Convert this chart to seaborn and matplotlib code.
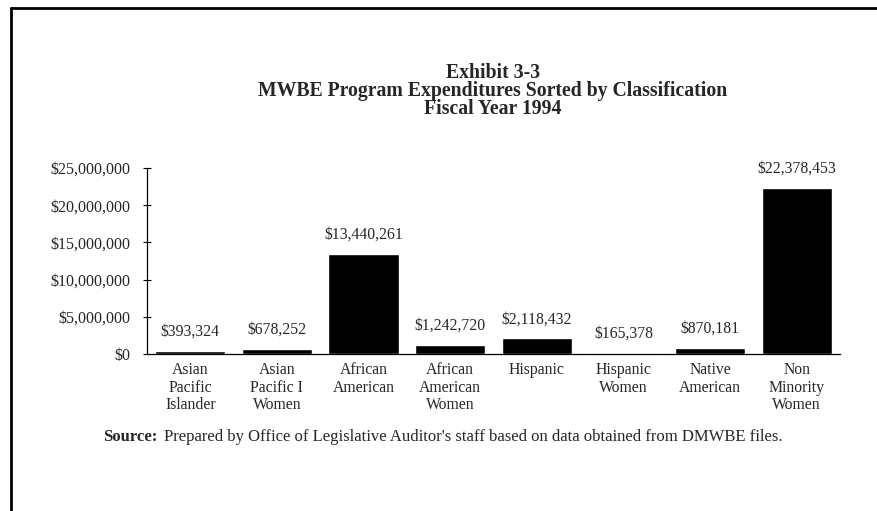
import matplotlib
matplotlib.use("Agg")
import matplotlib.pyplot as plt
import pandas as pd
import seaborn as sns

# chart data
categories = ["Asian\nPacific\nIslander", "Asian\nPacific I\nWomen", "African\nAmerican",
              "African\nAmerican\nWomen", "Hispanic", "Hispanic\nWomen", "Native\nAmerican",
              "Non\nMinority\nWomen"]
expenditures = [393324, 678252, 13440261, 1242720, 2118432, 165378, 870181, 22378453]
y_ticks = [0, 5000000, 10000000, 15000000, 20000000, 25000000]
title_lines = ["Exhibit 3-3", "MWBE Program Expenditures Sorted by Classification", "Fiscal Year 1994"]

df = pd.DataFrame({"Classification": categories, "Expenditure": expenditures})

sns.set_theme(style="white")
plt.rcParams["font.family"] = ["Liberation Serif", "DejaVu Serif"]

fig = plt.figure(figsize=(8.77, 5.11), dpi=100)
ax = fig.add_axes([0.1676, 0.3072, 0.7902, 0.364])

sns.barplot(data=df, x="Classification", y="Expenditure", color="black",
            width=0.81, saturation=1, ax=ax)

ax.set_xlim(-0.5, len(categories) - 0.5)
ax.set_ylim(0, 25000000)
ax.set_yticks(y_ticks)
ax.set_yticklabels(["${:,.0f}".format(v) for v in y_ticks], fontsize=11.5)
ax.set_xticks(range(len(categories)))
ax.set_xticklabels(categories, fontsize=11.3, linespacing=1.12)
ax.set_xticks([i - 0.5 for i in range(len(categories) + 1)], minor=True)
ax.tick_params(axis="x", which="major", length=0, pad=6)
ax.tick_params(axis="x", which="minor", length=6, width=0.8, direction="inout", color="black")
ax.tick_params(axis="y", length=6, width=0.8, direction="inout", color="black", left=True, pad=9)
ax.set_xlabel("")
ax.set_ylabel("")

for side in ["top", "right"]:
    ax.spines[side].set_visible(False)
for side in ["left", "bottom"]:
    ax.spines[side].set_color("black")
    ax.spines[side].set_linewidth(0.9)

ax.bar_label(ax.containers[0], labels=["${:,.0f}".format(v) for v in expenditures],
             padding=8, fontsize=11.3)

# title, one text block with tight lines like the scan
fig.text(0.562, 0.822, "\n".join(title_lines), ha="center", va="center",
         fontsize=14.2, fontweight="bold", linespacing=0.88)

# source note
fig.text(0.118, 0.145, "Source:", ha="left", va="center", fontsize=12, fontweight="bold")
fig.text(0.187, 0.145, "Prepared by Office of Legislative Auditor's staff based on data obtained from DMWBE files.",
         ha="left", va="center", fontsize=12)

# page frame lines
fig.add_artist(plt.Line2D([0.012, 1.0], [0.985, 0.985], color="black", linewidth=2))
fig.add_artist(plt.Line2D([0.012, 0.012], [0.0, 0.985], color="black", linewidth=2))

fig.savefig("out.png", dpi=100)
